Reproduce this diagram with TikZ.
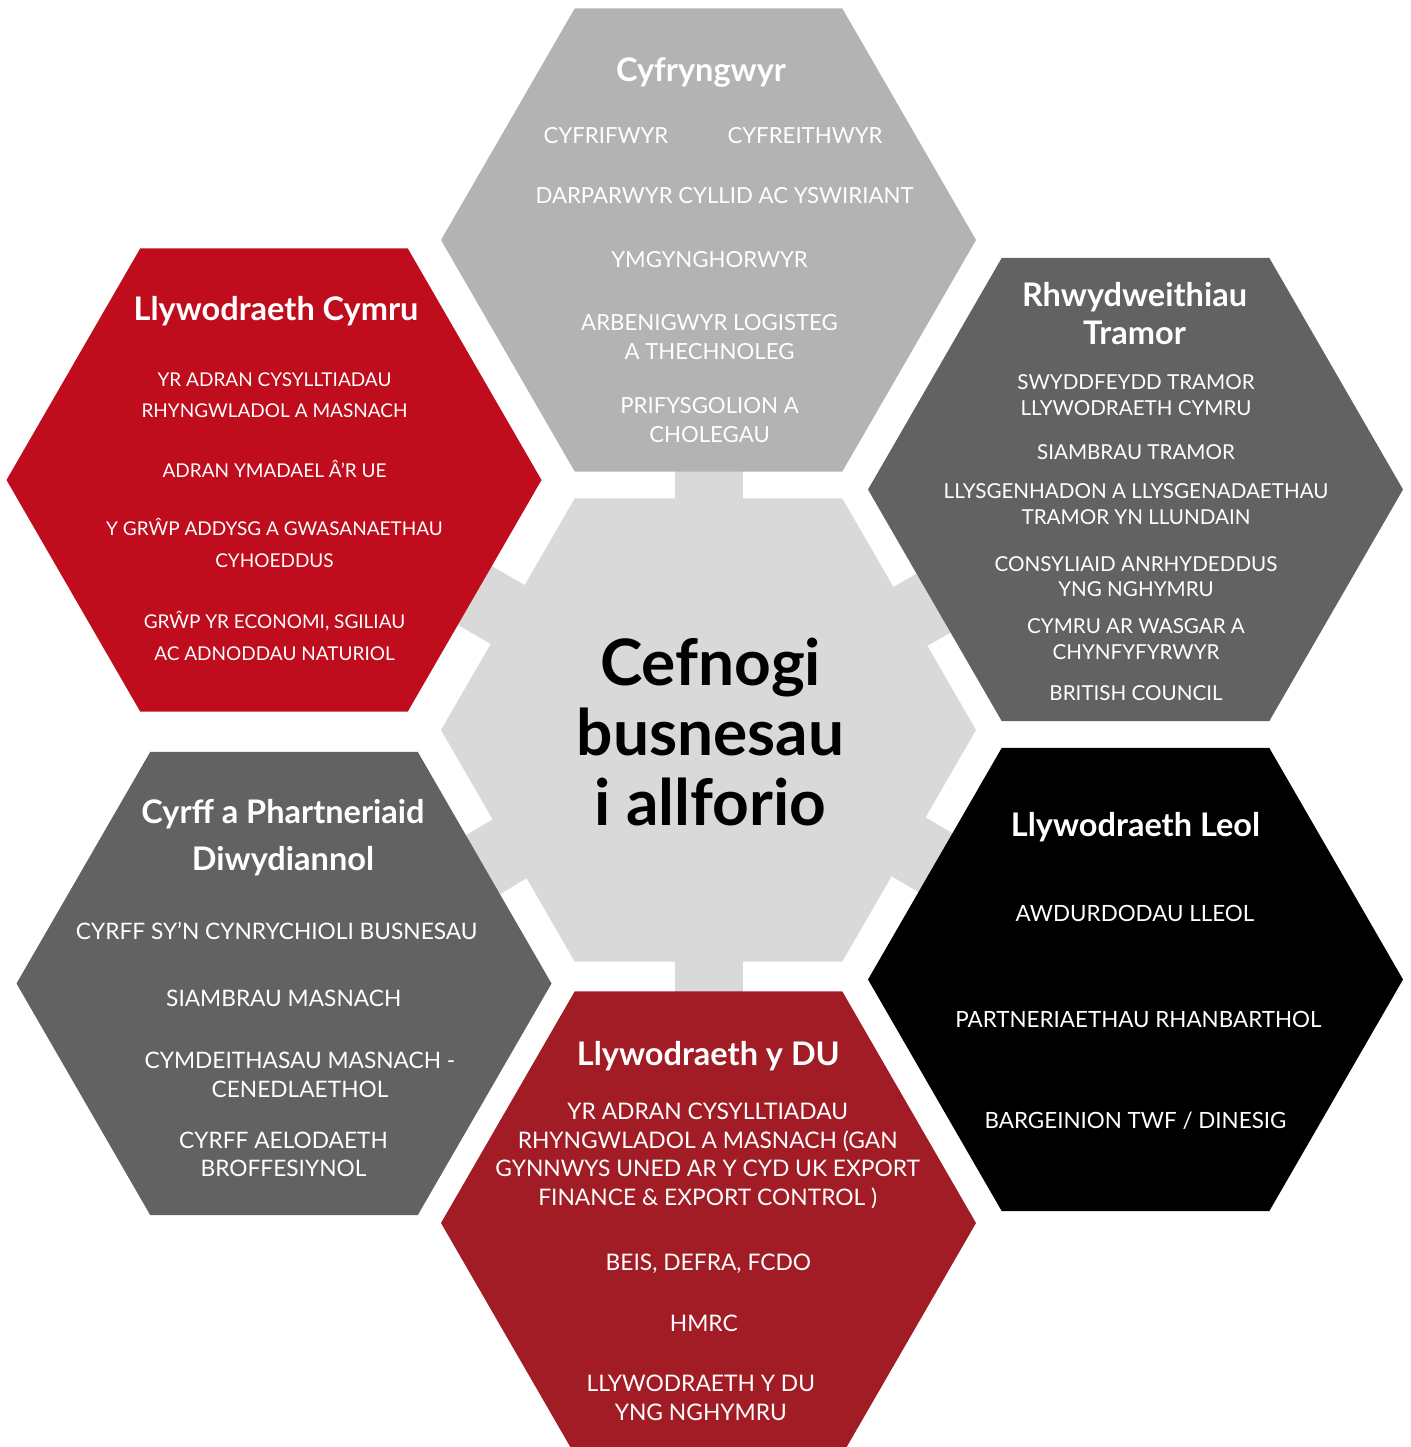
\documentclass[tikz,border=0pt]{standalone}
\usepackage{fontspec}
\setmainfont{Lato}
\usepackage{tikz}
\usetikzlibrary{shapes.geometric,backgrounds}
\usepackage{xcolor}

\definecolor{hexcentre}{HTML}{D9D9D9}
\definecolor{hexlight}{HTML}{B3B3B3}
\definecolor{hexred}{HTML}{C00D1D}
\definecolor{hexdark}{HTML}{626262}
\definecolor{hexwine}{HTML}{A21C26}

\begin{document}
\begin{tikzpicture}[%
    x=1pt,y=-1pt,hexa/.style={%
      regular polygon,regular polygon sides=6,minimum size=535pt,
      inner sep=0pt,outer sep=0pt},
    tab/.style={line width=68pt,hexcentre},
    head/.style={text=white,font=\bfseries\fontsize{32.5}{38}\selectfont,
      align=center,anchor=base,inner sep=0pt},
    item/.style={text=white,align=center,anchor=base,inner sep=0pt}
  ]
    \useasboundingbox (0,0) rectangle (1410,1447);
    \clip (0,0) rectangle (1410,1447);

    % the seven hexagons
    \node[hexa,fill=hexcentre] (centre) at (708.5,730)   {};
    \node[hexa,fill=hexlight]  (cyfr)   at (708.5,240)   {};
    \node[hexa,fill=hexred]    (cymru)  at (274,480)     {};
    \node[hexa,fill=hexdark]   (tramor) at (1135.5,489.5){};
    \node[hexa,fill=hexdark]   (cyrff)  at (284,983.5)   {};
    \node[hexa,fill=black]     (leol)   at (1135.5,979.5){};
    \node[hexa,fill=hexwine]   (du)     at (708.5,1223)  {};

    % tabs joining the centre to the others
    \begin{scope}[on background layer]
      \foreach \h in {cyfr,cymru,tramor,cyrff,leol,du}
        \draw[tab] (centre.center) -- (\h.center);
    \end{scope}

    % centre (multi-line nodes sit on their last baseline)
    \node[anchor=base,align=center,inner sep=0pt,
      font=\bfseries\fontsize{64}{70}\selectfont] (nod)
      at (710.5,825) {Cefnogi\\busnesau\\i allforio};

    % Cyfryngwyr
    \node[head] (cyfrt) at (701,82) {Cyfryngwyr};
    \begin{scope}[item/.append style={font=\fontsize{22.2}{28.5}\selectfont}]
      \node[item] (cyfr1) at (606,144)   {CYFRIFWYR};
      \node[item] (cyfr2) at (805,144)   {CYFREITHWYR};
      \node[item] (cyfr3) at (724.5,204) {DARPARWYR CYLLID AC YSWIRIANT};
      \node[item] (cyfr4) at (709.5,268) {YMGYNGHORWYR};
      \node[item] (cyfr5) at (709.5,359) {ARBENIGWYR LOGISTEG\\A THECHNOLEG};
      \node[item] (cyfr6) at (709.5,442.3) {PRIFYSGOLION A\\CHOLEGAU};
    \end{scope}

    % Llywodraeth Cymru
    \node[head] (cymrut) at (276,320) {Llywodraeth Cymru};
    \begin{scope}[item/.append style={font=\fontsize{19}{31.5}\selectfont}]
      \node[item] (cymru1) at (274.5,417.7) {YR ADRAN CYSYLLTIADAU\\RHYNGWLADOL A MASNACH};
      \node[item] (cymru2) at (274.5,477.7) {ADRAN YMADAEL Â’R UE};
      \node[item] (cymru3) at (274.5,567.3) {Y GRŴP ADDYSG A GWASANAETHAU\\CYHOEDDUS};
      \node[item] (cymru4) at (274.5,660)   {GRŴP YR ECONOMI, SGILIAU\\AC ADNODDAU NATURIOL};
    \end{scope}

    % Rhwydweithiau Tramor
    \node[head] (tramort) at (1134.5,344) {Rhwydweithiau\\Tramor};
    \begin{scope}[item/.append style={font=\fontsize{20.6}{25.5}\selectfont}]
      \node[item] (tramor1) at (1136,415)   {SWYDDFEYDD TRAMOR\\LLYWODRAETH CYMRU};
      \node[item] (tramor2) at (1136,459.3) {SIAMBRAU TRAMOR};
      \node[item] (tramor3) at (1136,524)   {LLYSGENHADON A LLYSGENADAETHAU\\TRAMOR YN LLUNDAIN};
      \node[item] (tramor4) at (1136,596.7) {CONSYLIAID ANRHYDEDDUS\\YNG NGHYMRU};
      \node[item] (tramor5) at (1136,659.3) {CYMRU AR WASGAR A\\CHYNFYFYRWYR};
      \node[item] (tramor6) at (1136,700)   {BRITISH COUNCIL};
    \end{scope}

    % Cyrff a Phartneriaid Diwydiannol
    \node[head,font=\bfseries\fontsize{32.5}{47.5}\selectfont] (cyrfft)
      at (283,870.7) {Cyrff a Phartneriaid\\Diwydiannol};
    \begin{scope}[item/.append style={font=\fontsize{22.7}{28.5}\selectfont}]
      \node[item] (cyrff1) at (276.7,939.3)  {CYRFF SY’N CYNRYCHIOLI BUSNESAU};
      \node[item] (cyrff2) at (283.7,1006.7) {SIAMBRAU MASNACH};
      \node[item] (cyrff3) at (300,1097.3)   {CYMDEITHASAU MASNACH -\\CENEDLAETHOL};
      \node[item] (cyrff4) at (283.5,1176.7) {CYRFF AELODAETH\\BROFFESIYNOL};
    \end{scope}

    % Llywodraeth Leol
    \node[head] (leolt) at (1135.5,836.7) {Llywodraeth Leol};
    \begin{scope}[item/.append style={font=\fontsize{22.4}{28.5}\selectfont}]
      \node[item] (leol1) at (1135,921.7)    {AWDURDODAU LLEOL};
      \node[item] (leol2) at (1138.3,1027.7) {PARTNERIAETHAU RHANBARTHOL};
      \node[item] (leol3) at (1135.5,1128.3) {BARGEINION TWF / DINESIG};
    \end{scope}

    % Llywodraeth y DU
    \node[head] (dut) at (708.3,1065) {Llywodraeth y DU};
    \begin{scope}[item/.append style={font=\fontsize{22.8}{28.8}\selectfont}]
      \node[item] (du1) at (707.7,1205.7) {YR ADRAN CYSYLLTIADAU\\RHYNGWLADOL A MASNACH (GAN\\GYNNWYS UNED AR Y CYD UK EXPORT\\FINANCE \& EXPORT CONTROL )};
      \node[item] (du2) at (708.3,1270)   {BEIS, DEFRA, FCDO};
      \node[item] (du3) at (703.8,1331.7) {HMRC};
      \node[item] (du4) at (700.8,1420.7) {LLYWODRAETH Y DU\\YNG NGHYMRU};
    \end{scope}
  \end{tikzpicture}
\end{document}
